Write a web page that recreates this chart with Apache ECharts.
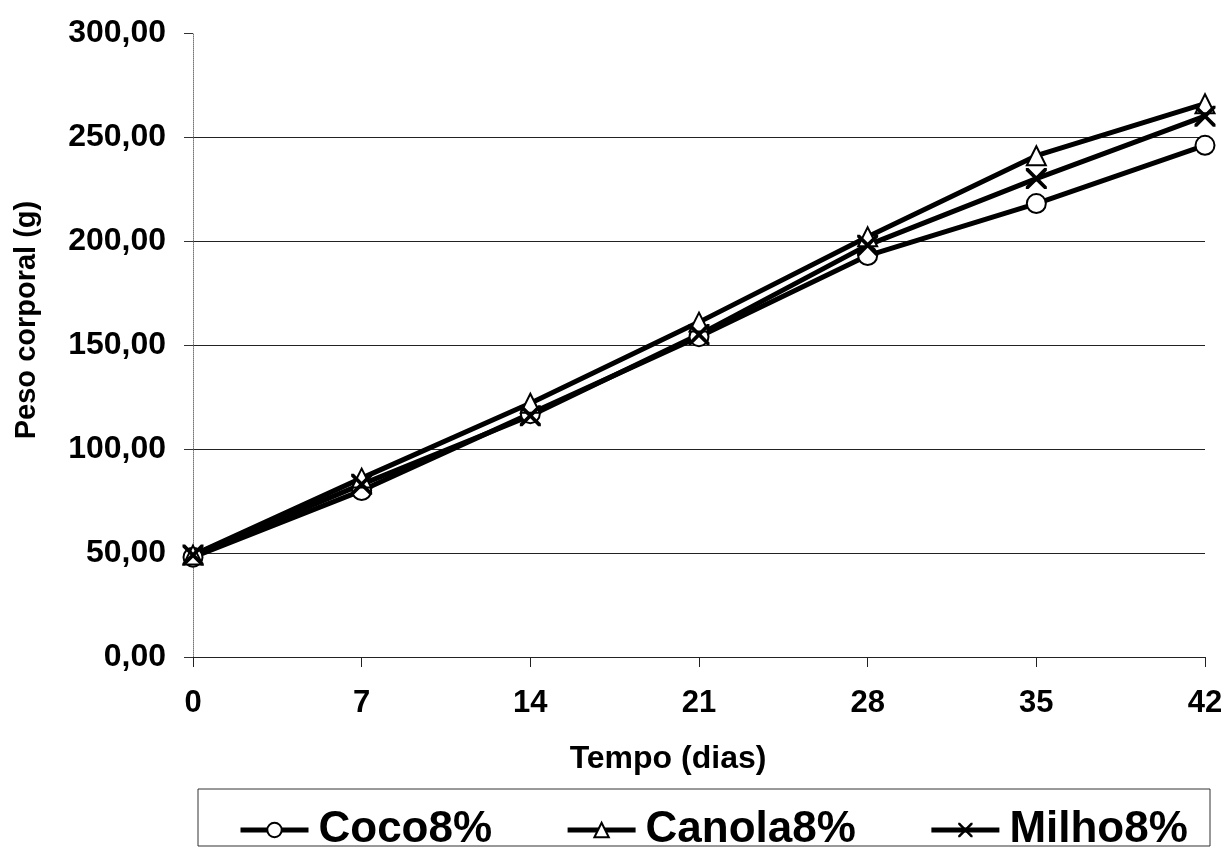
<!DOCTYPE html>
<html>
<head>
<meta charset="utf-8">
<script src="https://cdn.jsdelivr.net/npm/echarts@6/dist/echarts.min.js"></script>
<style>
  html, body { margin: 0; padding: 0; background: #fff; }
  #main { width: 1227px; height: 849px; }
</style>
</head>
<body>
<div id="main"></div>
<script>
// dados
var dias = ['0', '7', '14', '21', '28', '35', '42'];
var coco = [48, 80, 117, 154, 193, 218, 246];
var canola = [49, 86, 122, 161, 202, 241, 266];
var milho = [49, 83, 116, 155, 198, 230, 260];

var fonte = 'Liberation Sans, Arial, sans-serif';
// simbolo X (preenchido)
var simboloX = 'path://M0,0 L2.5,0 L10,7.5 L17.5,0 L20,0 L20,2.5 L12.5,10 L20,17.5 L20,20 L17.5,20 L10,12.5 L2.5,20 L0,20 L0,17.5 L7.5,10 L0,2.5 Z';

var chart = echarts.init(document.getElementById('main'));

var option = {
  animation: false,
  backgroundColor: '#fff',
  grid: { left: 193, right: 22, top: 33, bottom: 192 },
  xAxis: {
    type: 'category',
    data: dias,
    boundaryGap: false,
    name: 'Tempo (dias)',
    nameLocation: 'middle',
    nameGap: 86,
    nameTextStyle: { fontFamily: fonte, fontWeight: 'bold', fontSize: 32, color: '#000', padding: [0, 62, 0, 0] },
    axisLine: { lineStyle: { color: '#222', width: 1 } },
    axisTick: { show: true, length: 10, lineStyle: { color: '#222' } },
    axisLabel: { margin: 31, fontFamily: fonte, fontWeight: 'bold', fontSize: 31, color: '#000' },
    splitLine: { show: false }
  },
  yAxis: {
    type: 'value',
    min: 0,
    max: 300,
    interval: 50,
    name: 'Peso corporal (g)',
    nameLocation: 'middle',
    nameGap: 152,
    nameTextStyle: { fontFamily: fonte, fontWeight: 'bold', fontSize: 29, color: '#000', padding: [0, 0, 0, 50] },
    axisLine: { show: true, lineStyle: { color: '#777', width: 1, type: 'dotted' } },
    axisTick: { show: true, length: 9, lineStyle: { color: '#333' } },
    axisLabel: {
      margin: 27,
      fontFamily: fonte, fontWeight: 'bold', fontSize: 32, color: '#000',
      formatter: function (v) { return v.toFixed(2).replace('.', ','); }
    },
    splitLine: {
      show: true,
      lineStyle: { color: ['#222', '#222', '#222', '#222', '#222', '#222', 'rgba(0,0,0,0)'], width: 1 }
    }
  },
  legend: {
    left: 233,
    top: 803,
    itemWidth: 68,
    itemHeight: 18,
    itemGap: 73,
    lineStyle: { width: 5, color: '#000' },
    textStyle: { fontFamily: fonte, fontWeight: 'bold', fontSize: 44, color: '#000', padding: [0, 0, 0, 5] },
    data: ['Coco8%', 'Canola8%', 'Milho8%']
  },
  graphic: [{
    type: 'rect',
    shape: { x: 198, y: 789, width: 1012, height: 57 },
    style: { fill: 'none', stroke: '#333', lineWidth: 1 },
    silent: true
  }],
  series: [
    {
      name: 'Coco8%',
      type: 'line',
      data: coco,
      symbol: 'emptyCircle',
      symbolSize: 19,
      lineStyle: { color: '#000', width: 5 },
      itemStyle: { color: '#000', borderWidth: 2 }
    },
    {
      name: 'Canola8%',
      type: 'line',
      data: canola,
      symbol: 'emptyTriangle',
      symbolSize: 19,
      lineStyle: { color: '#000', width: 5 },
      itemStyle: { color: '#000', borderWidth: 2 }
    },
    {
      name: 'Milho8%',
      type: 'line',
      data: milho,
      symbol: simboloX,
      symbolSize: 21,
      lineStyle: { color: '#000', width: 5 },
      itemStyle: { color: '#000' }
    }
  ]
};

chart.setOption(option);
</script>
</body>
</html>
